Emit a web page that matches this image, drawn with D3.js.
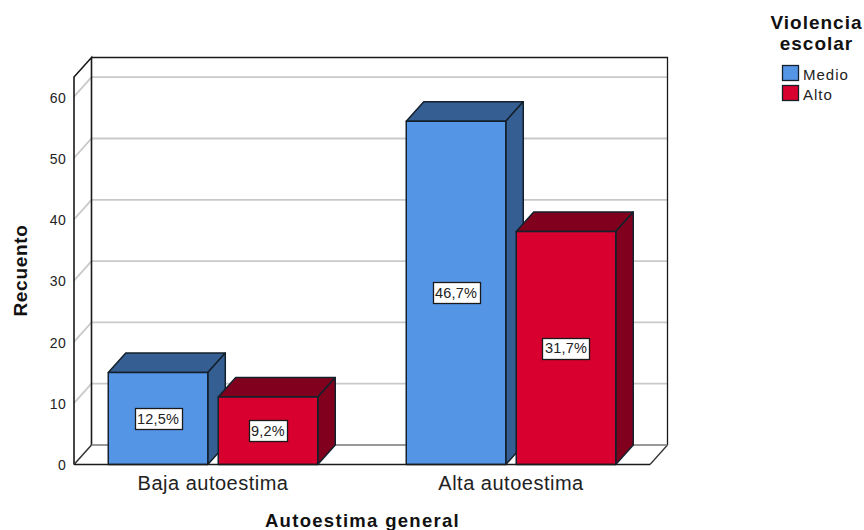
<!DOCTYPE html>
<html><head><meta charset="utf-8">
<script src="https://cdnjs.cloudflare.com/ajax/libs/d3/7.8.5/d3.min.js"></script>
<style>html,body{margin:0;background:#fff}svg{display:block}text{font-family:"Liberation Sans",Arial,sans-serif;fill:#222}</style>
</head><body><svg id="c" width="864" height="530"></svg>
<script>
const categories=["Baja autoestima","Alta autoestima"];
const seriesNames=["Medio","Alto"];
const medio=[15,56];
const alto=[11,38];
const medioPct=["12,5%","46,7%"];
const altoPct=["9,2%","31,7%"];
const yTicks=[0,10,20,30,40,50,60];
const legendTitle=["Violencia","escolar"];

const dx=17.5,dy=-19.5;
const svg=d3.select("#c");
const y=d3.scaleLinear().domain([0,60]).range([464.5,96.7]);
const yMax=y.invert(77);
const x0=d3.scaleBand().domain(categories).range([74,650]).paddingInner(0.297).paddingOuter(0.115);
const x1=d3.scaleBand().domain(seriesNames).range([0,x0.bandwidth()]).paddingInner(0.095);
const colors=d3.scaleOrdinal().domain(seriesNames).range(["#5595e6","#d7002e"]);
const darks=d3.scaleOrdinal().domain(seriesNames).range(["#355f92","#80001d"]);
const [xL,xR]=x0.range();

const grid=svg.append("g");
grid.selectAll("path.g").data(yTicks).join("path")
  .attr("fill","none").attr("stroke","#c9c9c9").attr("stroke-width",1.8)
  .attr("d",t=>t===0
    ? `M${xL},${y(t)}L${xL+dx},${y(t)+dy}`
    : `M${xL},${y(t)}L${xL+dx},${y(t)+dy}L${xR+dx},${y(t)+dy}`);
const frame=svg.append("g").attr("fill","none").attr("stroke","#1a1a1a");
frame.append("path").attr("stroke-width",1.6)
  .attr("d",`M${xL},${y(0)}L${xL},${y(yMax)}L${xL+dx},${y(yMax)+dy}L${xL+dx},${y(0)+dy}`);
frame.append("path").attr("stroke-width",1.3)
  .attr("d",`M${xL+dx},${y(yMax)+dy}L${xR+dx},${y(yMax)+dy}L${xR+dx},${y(0)+dy}`);
frame.append("path").attr("stroke-width",1.3).attr("stroke","#333")
  .attr("d",`M${xL},${y(0)}L${xL+dx},${y(0)+dy}M${xR},${y(0)}L${xR+dx},${y(0)+dy}`);
frame.append("path").attr("stroke-width",1.5).attr("stroke","#777")
  .attr("d",`M${xL+dx},${y(0)+dy}L${xR+dx},${y(0)+dy}`);

const rows=seriesNames.map((s,i)=>({s,vals:i===0?medio:alto,pct:i===0?medioPct:altoPct}));
const bars=[];
categories.forEach((c,ci)=>rows.forEach(r=>bars.push({c,s:r.s,v:r.vals[ci],p:r.pct[ci]})));
const g=svg.append("g").attr("stroke","#14202c").attr("stroke-width",1.5).attr("stroke-linejoin","round");
bars.forEach(b=>{
  const l=x0(b.c)+x1(b.s),r=l+x1.bandwidth(),t=y(b.v),o=y(0);
  g.append("path").attr("fill",darks(b.s))
    .attr("d",`M${l},${t}L${l+dx},${t+dy}L${r+dx},${t+dy}L${r},${t}Z`);
  g.append("path").attr("fill",darks(b.s))
    .attr("d",`M${r},${t}L${r+dx},${t+dy}L${r+dx},${o+dy}L${r},${o}Z`);
  g.append("rect").attr("x",l).attr("y",t).attr("width",r-l).attr("height",o-t).attr("fill",colors(b.s));
});
svg.append("path").attr("stroke","#1a1a1a").attr("stroke-width",1.6).attr("fill","none")
  .attr("d",`M${xL},${y(0)}L${xR},${y(0)}`);

bars.forEach(b=>{
  const cx=x0(b.c)+x1(b.s)+x1.bandwidth()/2, cy=(y(b.v)+y(0))/2;
  const w=b.p.length>4?47:38, h=21;
  svg.append("rect").attr("x",Math.round(cx-w/2)+.5).attr("y",Math.round(cy-h/2)+.5).attr("width",w).attr("height",h)
    .attr("fill","#fff").attr("stroke","#1a1a1a").attr("stroke-width",1.3);
  svg.append("text").attr("x",cx).attr("y",cy+5).attr("text-anchor","middle").attr("font-size",14.5).attr("letter-spacing",0.2).text(b.p);
});

const ya=svg.append("g").attr("transform",`translate(${xL},0)`)
  .call(d3.axisLeft(y).tickValues(yTicks).tickSize(0).tickPadding(8));
ya.select(".domain").remove();
ya.selectAll("text").attr("fill","#333").style("font-family",'"Liberation Sans",Arial,sans-serif').style("font-size","14px").style("letter-spacing","0.3px").attr("dy",".38em");
const xa=svg.append("g").attr("transform",`translate(0,${y(0)})`)
  .call(d3.axisBottom(x0).tickSize(0).tickPadding(11));
xa.select(".domain").remove();
xa.selectAll("text").attr("fill","#333").style("font-family",'"Liberation Sans",Arial,sans-serif').style("font-size","20px").style("letter-spacing","0.5px");

svg.append("text").attr("x",362.5).attr("y",526.5).attr("text-anchor","middle").attr("font-weight","bold").attr("font-size",18.5).attr("letter-spacing",1.3).style("fill","#111").text("Autoestima general");
svg.append("text").attr("transform","translate(27,270.5) rotate(-90)").attr("text-anchor","middle").attr("font-weight","bold").attr("font-size",19).attr("letter-spacing",0.7).style("fill","#111").text("Recuento");

legendTitle.forEach((t,i)=>svg.append("text").attr("x",816.5).attr("y",[29,50][i]).attr("text-anchor","middle").attr("font-weight","bold").attr("font-size",19).attr("letter-spacing",1).style("fill","#111").text(t));
seriesNames.forEach((s,i)=>{
  const ly=[65.5,85.5][i];
  svg.append("rect").attr("x",782.5).attr("y",ly).attr("width",16).attr("height",15).attr("fill",colors(s)).attr("stroke","#14202c").attr("stroke-width",1.3);
  svg.append("text").attr("x",803).attr("y",ly+14).attr("font-size",15).attr("letter-spacing",1).attr("fill","#333").text(s);
});
</script></body></html>
